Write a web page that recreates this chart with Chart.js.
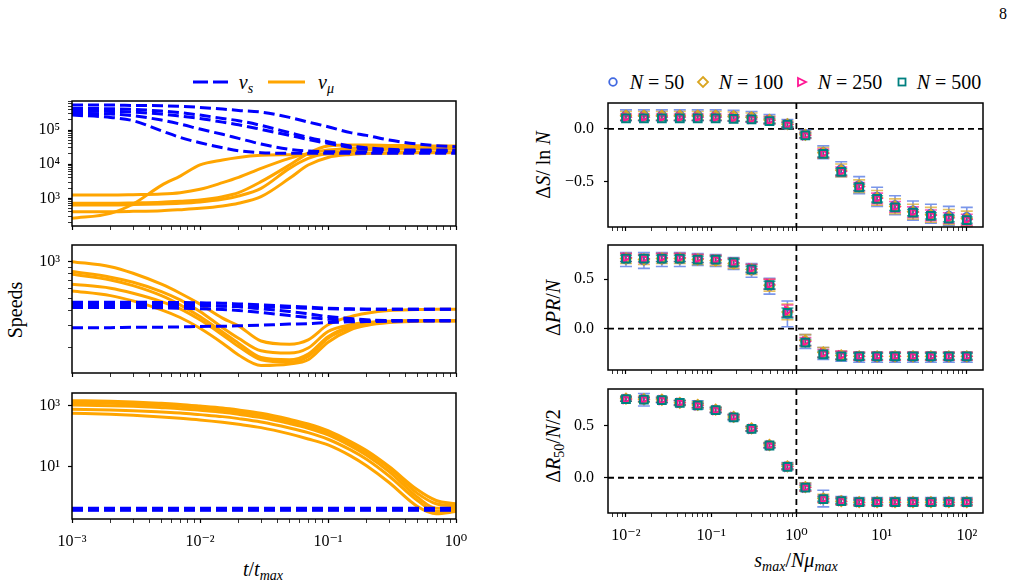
<!DOCTYPE html>
<html>
<head>
<meta charset="utf-8">
<script src="https://cdn.jsdelivr.net/npm/chart.js@4.4.0/dist/chart.umd.min.js"></script>
<style>
body { margin:0; background:#fff; }
#page { position:relative; width:1015px; height:583px; overflow:hidden; font-family:"Liberation Serif","DejaVu Serif",serif; color:#000; }
.box { position:absolute; }
.txt { position:absolute; white-space:nowrap; font-size:20px; line-height:1; transform:translate(-50%,-50%); }
.rot { transform:translate(-50%,-50%) rotate(-90deg); }
i { font-style:italic; }
sub { font-size:70%; vertical-align:-0.3em; line-height:0; }
svg { position:absolute; left:0; top:0; }
</style>
</head>
<body>
<div id="page">
  <svg width="1015" height="583">
    <line x1="193" y1="82" x2="228" y2="82" stroke="#0000ff" stroke-width="3" stroke-dasharray="15,5"/>
    <line x1="268" y1="82" x2="305" y2="82" stroke="#ffa500" stroke-width="3"/>
    <circle cx="613" cy="82" r="3.8" fill="none" stroke="#4169e1" stroke-width="1.8"/>
    <polygon points="703,77 708,82 703,87 698,82" fill="none" stroke="#daa520" stroke-width="1.8"/>
    <polygon points="798,78 806,82 798,86" fill="none" stroke="#ff1493" stroke-width="1.8"/>
    <rect x="898.5" y="78.5" width="7" height="7" fill="none" stroke="#008080" stroke-width="1.8"/>
  </svg>
  <div class="txt" style="left:1003px;top:14px;font-size:16px">8</div>
  <div class="txt" style="left:246px;top:82px"><i>v</i><sub><i>s</i></sub></div>
  <div class="txt" style="left:326px;top:82px"><i>v</i><sub><i>μ</i></sub></div>
  <div class="txt" style="left:657px;top:82px"><i>N</i> = 50</div>
  <div class="txt" style="left:751px;top:82px"><i>N</i> = 100</div>
  <div class="txt" style="left:850px;top:82px"><i>N</i> = 250</div>
  <div class="txt" style="left:949px;top:82px"><i>N</i> = 500</div>
  <div class="txt rot" style="left:15px;top:310px">Speeds</div>
  <div class="txt" style="left:263px;top:569px"><i>t</i>/<i>t</i><sub><i>max</i></sub></div>
  <div class="txt" style="left:796px;top:560px"><i>s</i><sub><i>max</i></sub>/<i>Nμ</i><sub><i>max</i></sub></div>
  <div class="txt rot" style="left:543px;top:165px">Δ<i>S</i>/ ln <i>N</i></div>
  <div class="txt rot" style="left:553px;top:308px">Δ<i>PR</i>/<i>N</i></div>
  <div class="txt rot" style="left:553px;top:446px">Δ<i>R</i><sub>50</sub>/<i>N</i>/2</div>
</div>
<script>
//Datos paneles izquierda (t/tmax)
const tiempos = [0.001,0.002,0.003,0.005,0.007,0.01,0.015,0.02,0.03,0.05,0.07,0.1,0.15,0.2,0.3,0.5,0.7,1]

//arriba
const vsA = [2.75e5,2.35e5,1.88e5,9.5e4,6.1e4,4.25e4,3.04e4,2.48e4,2.17e4,2.1e4,2.1e4,2.1e4,2.1e4,2.1e4,2.1e4,2.1e4,2.1e4,2.1e4]
const vsB = [3.07e5,2.94e5,2.63e5,1.96e5,1.5e5,1.07e5,7.5e4,5.7e4,3.9e4,2.72e4,2.43e4,2.32e4,2.32e4,2.32e4,2.32e4,2.32e4,2.32e4,2.32e4]
const vsC = [3.6e5,3.52e5,3.37e5,2.94e5,2.57e5,2.19e5,1.71e5,1.43e5,1.05e5,7.0e4,5.3e4,4.07e4,3.1e4,2.78e4,2.6e4,2.48e4,2.48e4,2.48e4]
const vsD = [5.4e5,5.4e5,5.27e5,5.15e5,4.93e5,4.61e5,4.12e5,3.77e5,3.37e5,2.35e5,1.72e5,1.25e5,8.4e4,7.0e4,5.1e4,3.9e4,3.5e4,3.25e4]
const vsE = [4.31e5,4.21e5,4.03e5,3.6e5,3.22e5,2.75e5,2.19e5,1.88e5,1.37e5,8.4e4,6.1e4,4.56e4,3.4e4,3.04e4,2.72e4,2.6e4,2.6e4,2.6e4]
const vm1 = [260,364,683,2400,4500,9500,1.33e4,1.58e4,1.82e4,1.9e4,1.94e4,2.0e4,2.03e4,2.05e4,2.08e4,2.15e4,2.17e4,2.17e4]
const vm2 = [1250,1250,1280,1340,1470,1840,2880,4120,7550,1.48e4,2.08e4,2.6e4,2.9e4,3.04e4,3.1e4,3.1e4,3.1e4,3.1e4]
const vm3 = [716,716,733,767,820,898,1120,1470,3080,9460,2.08e4,3.4e4,3.64e4,3.64e4,3.56e4,3.48e4,3.4e4,3.4e4]
const vm4 = [641,641,655,683,716,783,938,1170,1970,7550,1.48e4,2.08e4,2.43e4,2.6e4,2.72e4,2.78e4,2.78e4,2.78e4]
const vm5 = [408,408,417,436,467,510,597,716,1120,3850,9460,1.58e4,1.94e4,2.08e4,2.17e4,2.22e4,2.27e4,2.27e4]

//medio
const ms1 = [468,468,468,464,464,462,459,453,445,434,426,418,413,410,410,410,410,410]
const ms2 = [450,450,450,448,445,442,436,429,413,393,376,357,344,336,332,330,330,330]
const ms3 = [423,423,423,421,418,413,408,400,385,364,351,340,334,332,330,330,330,330]
const ms4 = [439,439,439,439,436,436,434,431,429,423,418,413,410,410,410,410,410,410]
const ms5 = [290,290,293,293,294,297,298,300,304,310,313,319,324,325,327,330,330,330]
const mm1 = [1000,910,805,655,553,451,347,300,226,213,231,306,357,380,400,407,410,410]
const mm2 = [830,747,680,571,488,393,290,238,188,180,198,270,306,319,327,330,330,330]
const mm3 = [791,710,638,529,445,357,267,217,166,159,177,245,297,313,325,330,330,330]
const mm4 = [655,608,553,473,413,336,253,204,159,152,169,238,290,310,324,330,330,330]
const mm5 = [578,529,479,405,351,287,217,174,143,147,159,221,279,302,319,327,330,330]

//abajo
const bs1 = [0.37,0.37,0.37,0.37,0.37,0.37,0.37,0.37,0.37,0.37,0.37,0.37,0.37,0.37,0.37,0.37,0.37,0.37]
const bs2 = [0.385,0.385,0.385,0.385,0.385,0.385,0.385,0.385,0.385,0.385,0.385,0.385,0.385,0.385,0.385,0.385,0.385,0.385]
const bs3 = [0.40,0.40,0.40,0.40,0.40,0.40,0.40,0.40,0.40,0.40,0.40,0.40,0.40,0.40,0.40,0.40,0.40,0.40]
const bs4 = [0.415,0.415,0.415,0.415,0.415,0.415,0.415,0.415,0.415,0.415,0.415,0.415,0.415,0.415,0.415,0.415,0.415,0.415]
const bs5 = [0.43,0.43,0.43,0.43,0.43,0.43,0.43,0.43,0.43,0.43,0.43,0.43,0.43,0.43,0.43,0.43,0.43,0.43]
const bm1 = [1460,1390,1320,1190,1100,975,838,721,561,357,251,151,66,33.5,10,1.72,0.77,0.6]
const bm2 = [1250,1190,1130,1030,950,838,721,620,482,306,215,130,58.3,29,8.8,1.32,0.6,0.513]
const bm3 = [1050,1000,950,860,797,703,604,520,404,257,181,109,47.6,23.5,6.8,0.99,0.43,0.43]
const bm4 = [758,721,686,620,575,507,436,375,291,185,130,78.8,35.2,17.4,4.9,0.77,0.335,0.38]
const bm5 = [561,520,482,425,384,339,284,244,190,118,80.7,51.3,22.4,10.6,3.0,0.49,0.281,0.335]

//Datos paneles derecha (smax/N mumax)
const razones = [0.01,0.01624,0.02637,0.04281,0.06952,0.1129,0.1833,0.2976,0.4833,0.7848,1.274,2.069,3.360,5.456,8.859,14.38,23.36,37.93,61.58,100]

const dS50 = [0.13,0.13,0.13,0.13,0.13,0.13,0.125,0.115,0.09,0.05,-0.05,-0.22,-0.38,-0.53,-0.64,-0.72,-0.77,-0.80,-0.82,-0.83]
const dS100 = [0.125,0.125,0.125,0.125,0.125,0.125,0.12,0.11,0.085,0.045,-0.055,-0.225,-0.39,-0.54,-0.65,-0.73,-0.78,-0.81,-0.83,-0.845]
const dS250 = [0.11,0.11,0.11,0.11,0.11,0.11,0.105,0.095,0.08,0.04,-0.06,-0.23,-0.40,-0.545,-0.655,-0.735,-0.785,-0.815,-0.84,-0.855]
const dS500 = [0.10,0.10,0.10,0.10,0.10,0.10,0.095,0.09,0.075,0.04,-0.06,-0.235,-0.405,-0.55,-0.66,-0.74,-0.79,-0.82,-0.845,-0.86]
const eS50 = [0.05,0.05,0.05,0.05,0.05,0.05,0.05,0.05,0.045,0.04,0.04,0.06,0.07,0.08,0.09,0.09,0.09,0.09,0.09,0.09]
const eS100 = [0.04,0.04,0.04,0.04,0.04,0.04,0.04,0.04,0.035,0.03,0.03,0.05,0.06,0.06,0.07,0.07,0.07,0.07,0.07,0.07]
const eS250 = [0.03,0.03,0.03,0.03,0.03,0.03,0.03,0.03,0.03,0.025,0.025,0.04,0.04,0.04,0.05,0.05,0.05,0.05,0.05,0.05]
const eS500 = [0.02,0.02,0.02,0.02,0.02,0.02,0.02,0.02,0.02,0.02,0.02,0.03,0.03,0.03,0.03,0.03,0.03,0.03,0.03,0.03]

const dP50 = [0.70,0.69,0.70,0.70,0.70,0.69,0.66,0.59,0.43,0.15,-0.13,-0.25,-0.28,-0.29,-0.29,-0.29,-0.29,-0.29,-0.29,-0.29]
const dP100 = [0.71,0.70,0.71,0.71,0.70,0.69,0.66,0.60,0.44,0.17,-0.12,-0.24,-0.27,-0.28,-0.28,-0.28,-0.28,-0.28,-0.28,-0.28]
const dP250 = [0.72,0.71,0.72,0.72,0.71,0.70,0.67,0.61,0.45,0.18,-0.13,-0.25,-0.27,-0.28,-0.28,-0.28,-0.28,-0.28,-0.28,-0.28]
const dP500 = [0.71,0.71,0.71,0.71,0.70,0.70,0.67,0.60,0.44,0.16,-0.14,-0.26,-0.28,-0.28,-0.28,-0.28,-0.28,-0.28,-0.28,-0.28]
const eP50 = [0.07,0.08,0.07,0.07,0.06,0.06,0.06,0.07,0.08,0.13,0.07,0.06,0.05,0.05,0.05,0.05,0.05,0.05,0.05,0.05]
const eP100 = [0.05,0.05,0.05,0.05,0.05,0.05,0.05,0.05,0.06,0.08,0.06,0.05,0.04,0.04,0.04,0.04,0.04,0.04,0.04,0.04]
const eP250 = [0.04,0.04,0.04,0.04,0.04,0.04,0.04,0.04,0.05,0.06,0.04,0.04,0.04,0.04,0.04,0.04,0.04,0.04,0.04,0.04]
const eP500 = [0.03,0.03,0.03,0.03,0.03,0.03,0.03,0.03,0.04,0.05,0.03,0.03,0.03,0.03,0.03,0.03,0.03,0.03,0.03,0.03]

const dR50 = [0.76,0.75,0.75,0.72,0.70,0.65,0.58,0.47,0.31,0.11,-0.09,-0.20,-0.22,-0.23,-0.23,-0.23,-0.23,-0.23,-0.23,-0.23]
const dR100 = [0.76,0.755,0.75,0.72,0.70,0.655,0.585,0.475,0.315,0.11,-0.09,-0.20,-0.225,-0.235,-0.235,-0.235,-0.235,-0.235,-0.235,-0.235]
const dR250 = [0.755,0.755,0.745,0.72,0.695,0.65,0.585,0.47,0.31,0.105,-0.095,-0.205,-0.225,-0.235,-0.235,-0.235,-0.235,-0.235,-0.235,-0.235]
const dR500 = [0.755,0.75,0.745,0.72,0.695,0.65,0.58,0.47,0.31,0.105,-0.095,-0.205,-0.225,-0.235,-0.235,-0.235,-0.235,-0.235,-0.235,-0.235]
const eR50 = [0.025,0.06,0.03,0.025,0.04,0.03,0.03,0.025,0.025,0.035,0.04,0.08,0.04,0.04,0.04,0.04,0.04,0.04,0.04,0.04]
const eR100 = [0.025,0.03,0.025,0.025,0.03,0.025,0.025,0.025,0.025,0.03,0.04,0.04,0.035,0.035,0.035,0.035,0.035,0.035,0.035,0.035]
const eR250 = [0.02,0.02,0.02,0.02,0.02,0.02,0.02,0.02,0.02,0.025,0.03,0.03,0.03,0.03,0.03,0.03,0.03,0.03,0.03,0.03]
const eR500 = [0.02,0.02,0.02,0.02,0.02,0.02,0.02,0.02,0.02,0.02,0.02,0.02,0.02,0.02,0.02,0.02,0.02,0.02,0.02,0.02]

//Utilidades
const AX = 60, PT = 24, PR = 30, XB = 40
const FUENTE = '"Liberation Serif", "DejaVu Serif", serif'
const page = document.getElementById("page")
const SUP = {"-":"⁻","0":"⁰","1":"¹","2":"²","3":"³","4":"⁴","5":"⁵","6":"⁶","7":"⁷","8":"⁸","9":"⁹"}

const esPot10 = v => Math.abs(Math.log10(v) - Math.round(Math.log10(v))) < 1e-6
const potencia = v => "10" + String(Math.round(Math.log10(v))).split("").map(c => SUP[c]).join("")

function marcasLog(min, max, menores) {
    let lista = []
    for (let e = Math.floor(Math.log10(min)); e <= Math.ceil(Math.log10(max)); e++) {
        for (let k = 1; k <= 9; k++) {
            if (k > 1 && !menores) continue
            let v = k * Math.pow(10, e)
            if (v >= min * 0.999999 && v <= max * 1.000001) lista.push(v)
        }
    }
    return lista
}

function ejeLog(min, max, marcas, conTexto, esX) {
    return {
        type: "logarithmic", min: min, max: max,
        afterBuildTicks: s => { s.ticks = marcas.map(v => ({value: v})) },
        afterFit: s => { if (esX) s.height = XB; else s.width = AX },
        border: {display: false},
        grid: {
            drawOnChartArea: false, drawTicks: true, tickLength: 4, tickColor: "#000",
            tickWidth: c => c.tick && esPot10(c.tick.value) ? 1.2 : 0.8
        },
        ticks: {
            display: conTexto, autoSkip: false, maxRotation: 0, padding: esX ? 9 : 8, color: "#000",
            font: {family: FUENTE, size: 16},
            callback: v => esPot10(v) ? potencia(v) : ""
        }
    }
}

function ejeLineal(min, max, marcas) {
    return {
        type: "linear", min: min, max: max,
        afterBuildTicks: s => { s.ticks = marcas.map(v => ({value: v})) },
        afterFit: s => { s.width = AX },
        border: {display: false},
        grid: {drawOnChartArea: false, drawTicks: true, tickLength: 4, tickColor: "#000", tickWidth: 1.2},
        ticks: {
            padding: 10, color: "#000", font: {family: FUENTE, size: 16},
            callback: v => (v < 0 ? "−" : "") + Math.abs(v).toFixed(1)
        }
    }
}

//marco negro alrededor del area
const marco = {
    id: "marco",
    afterDraw(chart) {
        const {ctx, chartArea: a} = chart
        ctx.save()
        ctx.strokeStyle = "#000"
        ctx.lineWidth = 1.5
        ctx.strokeRect(a.left, a.top, a.right - a.left, a.bottom - a.top)
        ctx.restore()
    }
}

//lineas punteadas en y=0 y x=1
const referencias = {
    id: "referencias",
    beforeDatasetsDraw(chart) {
        const {ctx, chartArea: a} = chart
        const px = chart.scales.x.getPixelForValue(1)
        const py = chart.scales.y.getPixelForValue(0)
        ctx.save()
        ctx.strokeStyle = "#000"
        ctx.lineWidth = 1.8
        ctx.setLineDash([6, 4])
        ctx.beginPath()
        ctx.moveTo(a.left, py); ctx.lineTo(a.right, py)
        ctx.moveTo(px, a.top); ctx.lineTo(px, a.bottom)
        ctx.stroke()
        ctx.restore()
    }
}

//barras de error
const barrasError = {
    id: "barrasError",
    beforeDatasetsDraw(chart) {
        const {ctx} = chart
        const ex = chart.scales.x, ey = chart.scales.y
        chart.data.datasets.forEach(ds => {
            ctx.save()
            ctx.strokeStyle = ds.colorError
            ctx.lineWidth = 1.6
            ds.data.forEach((p, i) => {
                const px = ex.getPixelForValue(p.x)
                const y1 = ey.getPixelForValue(p.y - ds.errores[i])
                const y2 = ey.getPixelForValue(p.y + ds.errores[i])
                ctx.beginPath()
                ctx.moveTo(px, y1); ctx.lineTo(px, y2)
                ctx.moveTo(px - 6, y1); ctx.lineTo(px + 6, y1)
                ctx.moveTo(px - 6, y2); ctx.lineTo(px + 6, y2)
                ctx.stroke()
            })
            ctx.restore()
        })
    }
}

function crearPanel(lugar, config) {
    let div = document.createElement("div")
    div.className = "box"
    div.style.left = (lugar.x - AX) + "px"
    div.style.top = (lugar.y - PT) + "px"
    let cv = document.createElement("canvas")
    cv.width = lugar.w + AX + PR
    cv.height = lugar.h + PT + XB
    div.appendChild(cv)
    page.appendChild(div)
    config.options.responsive = false
    config.options.animation = false
    config.options.events = []
    config.options.layout = {padding: {top: PT, right: PR, left: 0, bottom: 0}}
    config.options.plugins = {legend: {display: false}, tooltip: {enabled: false}}
    return new Chart(cv.getContext("2d"), config)
}

const linea = (vals, azul) => ({
    data: tiempos.map((t, i) => ({x: t, y: vals[i]})),
    borderColor: azul ? "#0000ff" : "#ffa500",
    borderWidth: 3,
    borderDash: azul ? [11, 5] : [],
    pointRadius: 0,
    cubicInterpolationMode: "monotone",
    fill: false
})

const marcasT = marcasLog(0.001, 1, true)

function panelVelocidades(lugar, azules, naranjas, ymin, ymax, marcasY, conTexto) {
    return crearPanel(lugar, {
        type: "line",
        data: {datasets: azules.map(v => linea(v, true)).concat(naranjas.map(v => linea(v, false)))},
        options: {
            scales: {
                x: ejeLog(0.001, 1, marcasT, conTexto, true),
                y: ejeLog(ymin, ymax, marcasY, true, false)
            }
        },
        plugins: [marco]
    })
}

panelVelocidades({x: 72, y: 101, w: 384, h: 125}, [vsA, vsB, vsC, vsD, vsE], [vm1, vm2, vm3, vm4, vm5], 155, 7.1e5, marcasLog(155, 7.1e5, true), false)
panelVelocidades({x: 72, y: 245, w: 384, h: 128}, [ms1, ms2, ms3, ms4, ms5], [mm1, mm2, mm3, mm4, mm5], 124, 1366, marcasLog(124, 1366, true), false)
panelVelocidades({x: 72, y: 393, w: 384, h: 126}, [bs1, bs2, bs3, bs4, bs5], [bm1, bm2, bm3, bm4, bm5], 0.19, 2600, [10, 1000], true)

//Paneles derecha
const estilos = [
    {color: "#4169e1", forma: "circle", radio: 4, rot: 0},
    {color: "#daa520", forma: "rectRot", radio: 5, rot: 0},
    {color: "#ff1493", forma: "triangle", radio: 4.5, rot: 90},
    {color: "#008080", forma: "rect", radio: 5.5, rot: 0}
]
const alfa = ["rgba(65,105,225,0.7)", "rgba(218,165,32,0.7)", "rgba(255,20,147,0.7)", "rgba(0,128,128,0.7)"]

const serie = (vals, errs, k) => ({
    data: razones.map((x, i) => ({x: x, y: vals[i]})),
    errores: errs,
    colorError: alfa[k],
    order: 3 - k,
    pointStyle: estilos[k].forma,
    rotation: estilos[k].rot,
    pointRadius: estilos[k].radio,
    borderColor: estilos[k].color,
    backgroundColor: "rgba(0,0,0,0)",
    borderWidth: 2
})

const marcasS = marcasLog(0.00615, 155, true)

function panelDiferencia(lugar, valores, errores, ymin, ymax, marcasY, conTexto) {
    return crearPanel(lugar, {
        type: "scatter",
        data: {datasets: valores.map((v, k) => serie(v, errores[k], k))},
        options: {
            scales: {
                x: ejeLog(0.00615, 155, marcasS, conTexto, true),
                y: ejeLineal(ymin, ymax, marcasY)
            }
        },
        plugins: [referencias, barrasError, marco]
    })
}

panelDiferencia({x: 608, y: 103, w: 375, h: 124}, [dS50, dS100, dS250, dS500], [eS50, eS100, eS250, eS500], -0.925, 0.245, [-0.5, 0], false)
panelDiferencia({x: 608, y: 245, w: 375, h: 125}, [dP50, dP100, dP250, dP500], [eP50, eP100, eP250, eP500], -0.418, 0.847, [0, 0.5], false)
panelDiferencia({x: 608, y: 389, w: 375, h: 124}, [dR50, dR100, dR250, dR500], [eR50, eR100, eR250, eR500], -0.339, 0.853, [0, 0.5], true)
</script>
</body>
</html>
